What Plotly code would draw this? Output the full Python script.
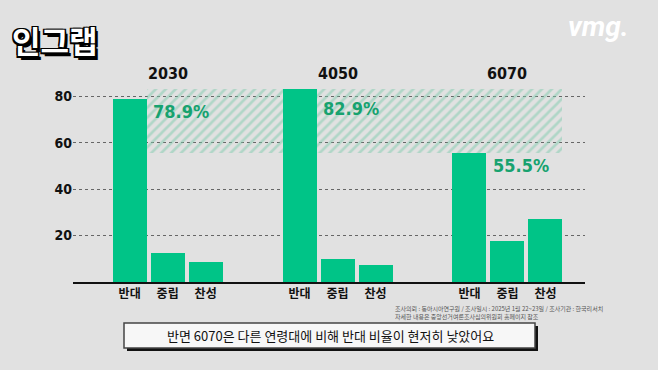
import plotly.graph_objects as go

# ---- data ----
groups = ["2030", "4050", "6070"]
categories = ["반대", "중립", "찬성"]
values_2030 = [78.9, 12.6, 8.6]
values_4050 = [82.9, 9.9, 7.2]
values_6070 = [55.5, 17.6, 27.0]
y_ticks = [20, 40, 60, 80]
subtitle = "반면 6070은 다른 연령대에 비해 반대 비율이 현저히 낮았어요"
source_lines = [
    "조사의뢰 : 동아시아연구원 / 조사일시 : 2025년 1월 22~23일 / 조사기관 : 한국리서치",
    "자세한 내용은 중앙선거여론조사심의위원회 홈페이지 참조",
]

all_values = [values_2030, values_4050, values_6070]

# ---- style ----
BG = "#e1e1e1"
BAR = "#00c487"
PCT = "#17a26f"
HATCH = "#7fcbad"
NUM_FONT = "Liberation Sans Narrow, DejaVu Sans Condensed, Roboto, sans-serif"
KR_FONT = "Noto Sans CJK KR, sans-serif"

GROUP_STEP = 4.47
BAR_W = 0.895

xs, ys, ticktext = [], [], []
for g, vals in enumerate(all_values):
    for i, v in enumerate(vals):
        xs.append(g * GROUP_STEP + i)
        ys.append(v)
        ticktext.append(categories[i])

fig = go.Figure()

# hatched band between lowest and highest "반대" value
oppose = [vals[0] for vals in all_values]
band_left = 0 + BAR_W / 2
band_right = 2 * GROUP_STEP + 2 + BAR_W / 2
fig.add_trace(go.Bar(
    x=[(band_left + band_right) / 2], y=[max(oppose) - min(oppose)], base=[min(oppose)],
    width=[band_right - band_left],
    marker=dict(color="rgba(0,0,0,0)", line=dict(width=0),
                pattern=dict(shape="/", fgcolor=HATCH, bgcolor="rgba(0,0,0,0)",
                             size=7, solidity=0.38)),
    hoverinfo="skip", showlegend=False,
))

fig.add_trace(go.Bar(
    x=xs, y=ys, width=[BAR_W] * len(xs),
    marker=dict(color=BAR, line=dict(width=0)),
    showlegend=False,
))

annotations = []
# group titles
for g, name in enumerate(groups):
    annotations.append(dict(
        x=g * GROUP_STEP + 1, y=1, xref="x", yref="paper",
        text=f"<b>{name}</b>", showarrow=False, yanchor="middle",
        font=dict(family=NUM_FONT, size=16, color="#111111"),
    ))
# percentage labels for 반대
for g, vals in enumerate(all_values):
    v = vals[0]
    annotations.append(dict(
        x=g * GROUP_STEP + BAR_W / 2 + 0.12, y=min(v, 80) - 5.3,
        xref="x", yref="y", xanchor="left", yanchor="middle",
        text=f"<b>{v:.1f}%</b>", showarrow=False,
        font=dict(family=NUM_FONT, size=18, color=PCT),
    ))
# source
annotations.append(dict(
    x=393, y=302, xref="paper", yref="paper", text="<br>".join(source_lines),
    showarrow=False, xanchor="left", yanchor="top", align="left",
    font=dict(family=KR_FONT, size=6, color="#555555"),
))
# subtitle
annotations.append(dict(
    x=330, y=335, xref="paper", yref="paper", text=subtitle, showarrow=False,
    xanchor="center", yanchor="middle",
    font=dict(family=KR_FONT, size=13, color="#111111"),
))
# logo
annotations.append(dict(
    x=55, y=40, xref="paper", yref="paper", text="<b>인그랩</b>", showarrow=False,
    xanchor="center", yanchor="middle",
    font=dict(family=KR_FONT, size=31, color="#ffffff", weight=900,
              shadow="-1.5px -1.5px 0 #000, 1.5px -1.5px 0 #000, -1.5px 1.5px 0 #000, 1.5px 1.5px 0 #000, 3px 4px 0 #000"),
))
annotations.append(dict(
    x=598, y=27, xref="paper", yref="paper", text="<b><i>vmg.</i></b>", showarrow=False,
    xanchor="center", yanchor="middle",
    font=dict(family="Roboto, sans-serif", size=28, color="#ffffff", weight=900),
))

# convert pixel-based paper coords for annotations placed in page pixels
W, H = 658, 370
ML, MR, MT, MB = 73, 73, 73, 88
pw, ph = W - ML - MR, H - MT - MB
for a in annotations:
    if a["xref"] == "paper" and a["x"] > 2:
        a["x"] = (a["x"] - ML) / pw
        a["y"] = (H - MB - a["y"]) / ph

shapes = [
    # subtitle box shadow
    dict(type="rect", xref="paper", yref="paper",
         x0=(127 - ML) / pw, x1=(538 - ML) / pw,
         y0=(H - MB - 351) / ph, y1=(H - MB - 326) / ph,
         fillcolor="#111111", line=dict(width=0), layer="above"),
    dict(type="rect", xref="paper", yref="paper",
         x0=(124 - ML) / pw, x1=(535 - ML) / pw,
         y0=(H - MB - 348) / ph, y1=(H - MB - 323) / ph,
         fillcolor="#f7f7f7", line=dict(width=1.5, color="#444444"), layer="above"),
]

fig.update_layout(
    width=W, height=H,
    margin=dict(l=ML, r=MR, t=MT, b=MB),
    paper_bgcolor=BG, plot_bgcolor=BG,
    barmode="overlay", bargap=0,
    annotations=annotations, shapes=shapes,
    xaxis=dict(range=[-1.49, 11.98], tickmode="array", tickvals=xs, ticktext=ticktext,
               showgrid=False, zeroline=False, showline=True, linecolor="#111111",
               linewidth=1.5, ticks="", fixedrange=True,
               tickfont=dict(family=KR_FONT, size=12, color="#111111", weight=700)),
    yaxis=dict(range=[0, 90], tickmode="array", tickvals=y_ticks,
               showgrid=True, gridcolor="#666666", griddash="dot", gridwidth=1,
               zeroline=False, showline=False, ticks="", fixedrange=True,
               tickfont=dict(family=NUM_FONT, size=14, color="#111111", weight=700)),
)

fig.write_html(
    "out.html",
    config={"displayModeBar": False},
    post_script="document.body.style.margin='0';document.body.style.background='%s';" % BG,
)
